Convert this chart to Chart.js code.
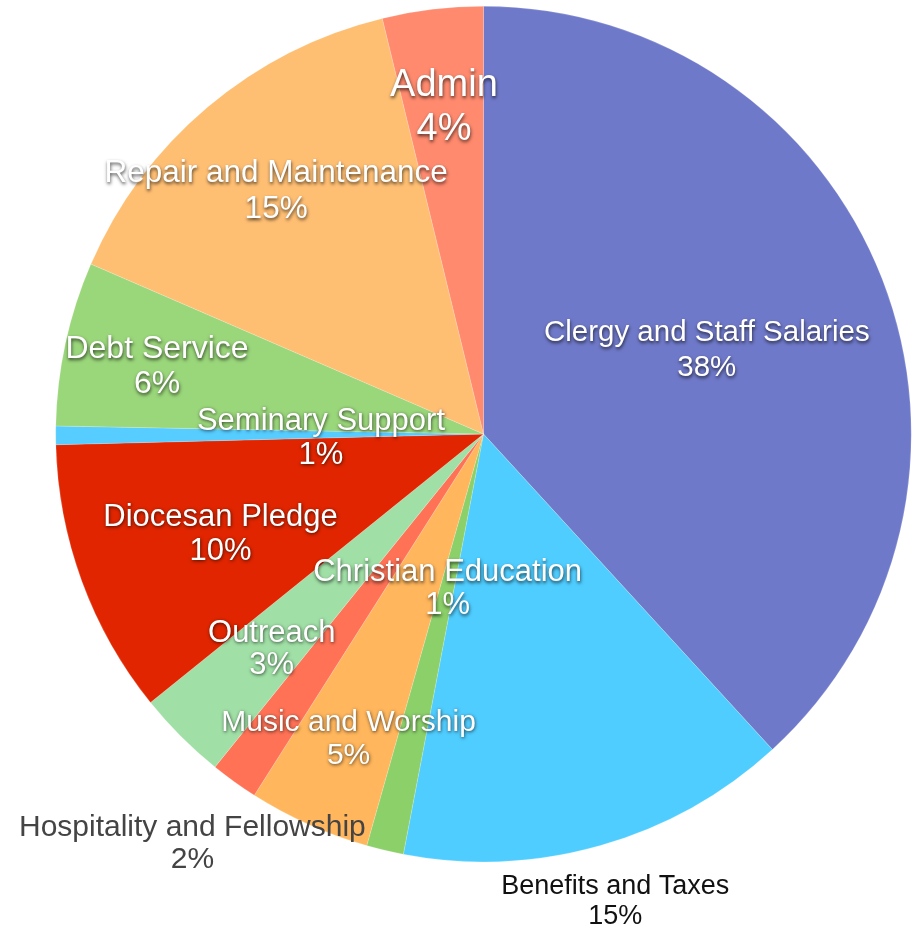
<!DOCTYPE html>
<html>
<head>
<meta charset="utf-8">
<title>Budget Allocation</title>
<script src="https://cdn.jsdelivr.net/npm/chart.js@4/dist/chart.umd.min.js"></script>
<style>
  html, body { margin: 0; padding: 0; background: #ffffff; }
  #wrap { width: 917px; height: 930px; }
</style>
</head>
<body>
<div id="wrap"><canvas id="budget" width="917" height="930"></canvas></div>
<script>
// Spending categories, clockwise from 12 o'clock
const categories = [
  'Clergy and Staff Salaries',
  'Benefits and Taxes',
  'Christian Education',
  'Music and Worship',
  'Hospitality and Fellowship',
  'Outreach',
  'Diocesan Pledge',
  'Seminary Support',
  'Debt Service',
  'Repair and Maintenance',
  'Admin'
];

// Share of the total budget, in percent
const shares = [38.2, 14.8, 1.4, 4.6, 1.8, 3.4, 10.4, 0.7, 6.2, 14.7, 3.8];

const sliceColors = [
  '#6f79c9', '#4fcdff', '#8cd06a', '#ffb65c', '#ff7256', '#a0e0a6',
  '#e02500', '#56ccff', '#9ad67a', '#ffbf73', '#ff8a6e'
];

// Label layout: distance of each label block from the centre (fraction of radius),
// font size, line spacing, and whether it sits inside the slice (white + shadow)
const labelDistance = [0.56, 1.128, 0.364, 0.772, 1.168, 0.70, 0.655, 0.38, 0.781, 0.752, 0.776];
const labelSize     = [29.5, 27, 31, 30, 30, 31, 31, 31, 32, 31.5, 38];
const labelGap      = [35, 30, 33, 33, 32, 32, 34, 34, 35, 36, 44];
const labelInside   = [true, false, true, true, false, true, true, true, true, true, true];
const outsideColors = { 1: '#111111', 4: '#444444' };
const baselineNudge = 3.5;

const total = shares.reduce((a, b) => a + b, 0);

const sliceLabels = {
  id: 'sliceLabels',
  afterDatasetsDraw(chart) {
    const ctx = chart.ctx;
    const arcs = chart.getDatasetMeta(0).data;
    arcs.forEach((arc, i) => {
      const mid = (arc.startAngle + arc.endAngle) / 2;
      const r = arc.outerRadius * labelDistance[i];
      const cx = arc.x + Math.cos(mid) * r;
      const cy = arc.y + Math.sin(mid) * r + baselineNudge;
      const pct = Math.round(shares[i] / total * 100) + '%';
      ctx.save();
      ctx.font = labelSize[i] + 'px "Liberation Sans", Arial, Helvetica, sans-serif';
      ctx.textAlign = 'center';
      ctx.textBaseline = 'middle';
      if (labelInside[i]) {
        ctx.fillStyle = '#ffffff';
        ctx.shadowColor = 'rgba(0,0,0,0.7)';
        ctx.shadowBlur = 3.5;
        ctx.shadowOffsetX = 0.5;
        ctx.shadowOffsetY = 1.5;
      } else {
        ctx.fillStyle = outsideColors[i];
      }
      ctx.fillText(categories[i], cx, cy - labelGap[i] / 2);
      ctx.fillText(pct, cx, cy + labelGap[i] / 2);
      ctx.restore();
    });
  }
};

new Chart(document.getElementById('budget'), {
  type: 'pie',
  data: {
    labels: categories,
    datasets: [{
      data: shares,
      backgroundColor: sliceColors,
      borderColor: 'rgba(255,255,255,0.35)',
      borderWidth: 0.5
    }]
  },
  options: {
    responsive: false,
    animation: false,
    rotation: 0,
    layout: { padding: { left: 55, right: 5, top: 6, bottom: 68 } },
    plugins: {
      legend: { display: false },
      tooltip: { enabled: false }
    }
  },
  plugins: [sliceLabels]
});
</script>
</body>
</html>
